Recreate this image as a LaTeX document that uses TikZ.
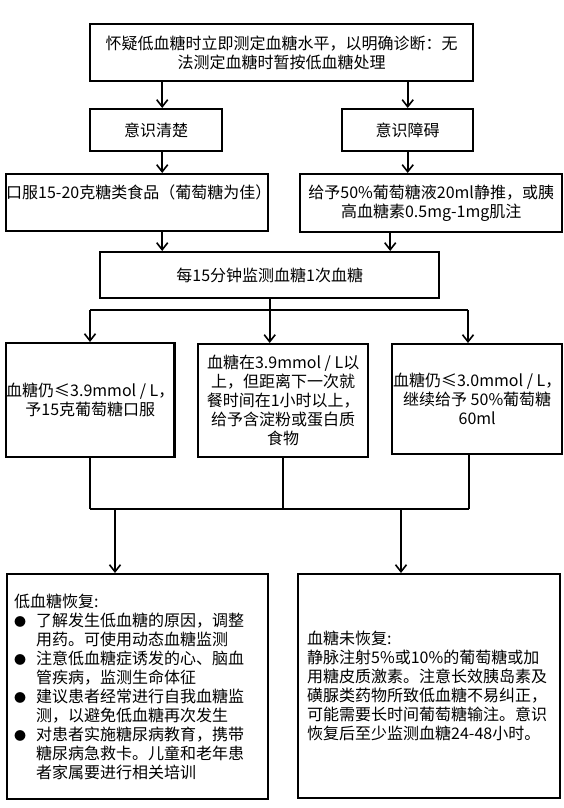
\documentclass[tikz,border=0pt]{standalone}
\usepackage{fontspec}
\setmainfont{Noto Sans CJK SC}
\usetikzlibrary{arrows.meta, positioning, calc}
\tikzset{
  every picture/.style={font=\fontsize{16}{19}\selectfont, line width=2pt},
  box/.style={draw, line width=2.4pt, align=center, inner sep=0pt, anchor=north west},
  arrow/.style={-{Straight Barb[length=7pt, width=11pt, line width=1.6pt]}, line width=1.8pt},
  link/.style={line width=1.8pt},
}
\newcommand{\bul}{\makebox[22pt][l]{\fontsize{12}{12}\selectfont ●}}
\newcommand{\hang}{\hspace*{22pt}}

\begin{document}
\begin{tikzpicture}[x=1pt, y=-1pt]
  \useasboundingbox (0,0) rectangle (564,808);
  \node[box, minimum width=383pt, minimum height=57pt] (suspect) at (89,23) {怀疑低血糖时立即测定血糖水平，以明确诊断：无\\法测定血糖时暂按低血糖处理};
  \node[box, minimum width=132pt, minimum height=42pt] (clear) at (89,108) {意识清楚};
  \node[box, minimum width=131pt, minimum height=42pt] (impaired) at (341,108) {意识障碍};
  \node[box, text width=262pt, align=left, text height=24pt, text depth=33pt] (oral) at (5,173) {\mbox{口服15-20克糖类食品（葡萄糖为佳）}};
  \node[box, minimum width=262pt, minimum height=58pt] (iv) at (299,173) {给予50\%葡萄糖液20ml静推，或胰\\高血糖素0.5mg-1mg肌注};
  \node[box, minimum width=339pt, minimum height=46pt] (monitor) at (99,251) {每15分钟监测血糖1次血糖};
  \node[box, minimum width=156pt, minimum height=114pt] (low) at (5,342) {血糖仍≤3.9mmol / L，\\予15克葡萄糖口服};
  \node[box, minimum width=170pt, minimum height=113pt] (mid) at (197,343) {血糖在3.9mmol / L以\\上，但距离下一次就\\餐时间在1小时以上，\\给予含淀粉或蛋白质\\食物};
  \node[box, minimum width=170pt, minimum height=110pt] (high) at (391,343) {血糖仍≤3.0mmol / L，\\继续给予 50\%葡萄糖\\60ml};
  \node[box, inner xsep=7pt, text width=247pt, align=left, minimum height=225pt] (recovered) at (6,573) {低血糖恢复:\\
    \bul 了解发生低血糖的原因，调整\\
    \hang 用药。可使用动态血糖监测\\
    \bul 注意低血糖症诱发的心、脑血\\
    \hang 管疾病，监测生命体征\\
    \bul 建议患者经常进行自我血糖监\\
    \hang 测，以避免低血糖再次发生\\
    \bul 对患者实施糖尿病教育，携带\\
    \hang 糖尿病急救卡。儿童和老年患\\
    \hang 者家属要进行相关培训};
  \node[box, inner xsep=9pt, text width=244pt, align=left, minimum height=224pt] (notrec) at (297,573) {血糖未恢复:\\
    静脉注射5\%或10\%的葡萄糖或加\\
    用糖皮质激素。注意长效胰岛素及\\
    磺脲类药物所致低血糖不易纠正，\\
    可能需要长时间葡萄糖输注。意识\\
    恢复后至少监测血糖24-48小时。};
  \coordinate (forkL) at (90,310);
  \coordinate (forkR) at (468,310);
  \coordinate (joinL) at (90,509);
  \coordinate (joinR) at (469,509);
  \coordinate (dropL) at (115,509);
  \coordinate (dropR) at (401,509);
  \draw[arrow] ([xshift=6pt]suspect.south -| clear.north) -- ([xshift=6pt]clear.north);
  \draw[arrow] (suspect.south -| impaired.north) -- (impaired.north);
  \draw[arrow] ([xshift=6pt]clear.south) -- ([xshift=6pt]clear.south |- oral.north);
  \draw[arrow] (impaired.south) -- (impaired.south |- iv.north);
  \draw[arrow] ([xshift=6pt]oral.south -| clear.south) -- ([xshift=6pt]monitor.north -| clear.south);
  \draw[arrow] ([xshift=-41pt]iv.south) -- ([xshift=-41pt]iv.south |- monitor.north);
  \draw[link] (monitor.south) -- (monitor.south |- forkL);
  \draw[link] (forkL) -- (forkR);
  \draw[arrow] (forkL) -- (forkL |- low.north);
  \draw[arrow] (monitor.south |- forkL) -- (monitor.south |- mid.north);
  \draw[arrow] (forkR) -- (forkR |- high.north);
  \draw[link] (joinL |- low.south) -- (joinL);
  \draw[link] (mid.south) -- (mid.south |- joinL);
  \draw[link] (joinR |- high.south) -- (joinR);
  \draw[link] (joinL) -- (joinR);
  \draw[arrow] (dropL) -- (dropL |- recovered.north);
  \draw[arrow] (dropR) -- (dropR |- notrec.north);
\end{tikzpicture}
\end{document}
